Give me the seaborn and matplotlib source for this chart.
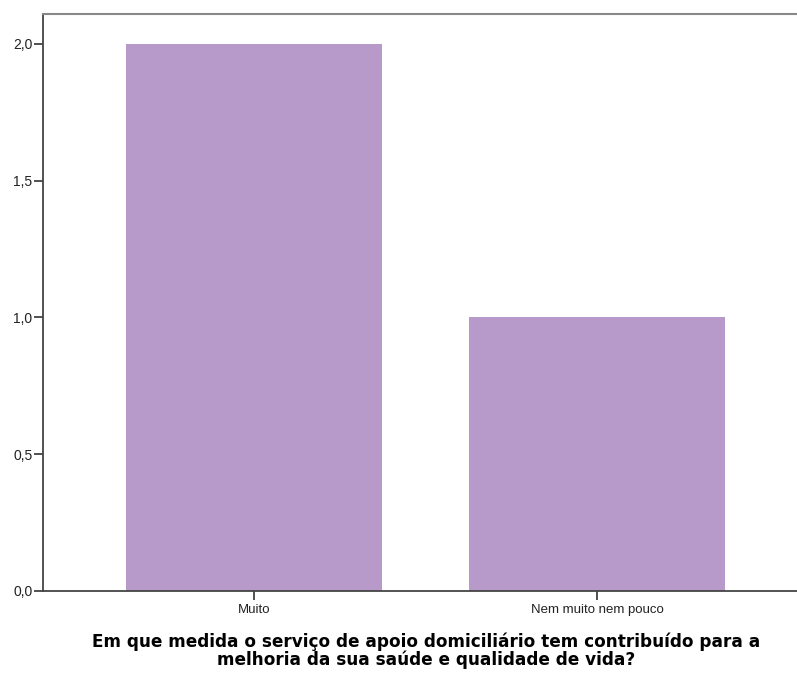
import matplotlib
matplotlib.use("Agg")
import matplotlib.pyplot as plt
import seaborn as sns
import pandas as pd

categories = ["Muito", "Nem muito nem pouco"]
counts = [2.0, 1.0]
yticks = [0.0, 0.5, 1.0, 1.5, 2.0]
ytick_labels = ["0,0", "0,5", "1,0", "1,5", "2,0"]
xlabel = ("Em que medida o serviço de apoio domiciliário tem contribuído para a\n"
          "melhoria da sua saúde e qualidade de vida?")

sns.set_theme(style="white")
plt.rcParams['font.family'] = ['Liberation Sans', 'DejaVu Sans']

df = pd.DataFrame({"cat": categories, "count": counts})

fig = plt.figure(figsize=(7.97, 6.73), dpi=100)
ax = fig.add_axes([43/797, 1-591/673, 1-43/797, (591-14)/673])
sns.barplot(data=df, x="cat", y="count", color="#B89ACA", width=0.746,
            saturation=1, ax=ax, edgecolor="none")

ax.set_ylim(0, 577/273.5)
ax.set_xlim(-0.615, 1.583)
ax.set_yticks(yticks)
ax.set_yticklabels(ytick_labels, fontsize=10, color="#222222")
ax.tick_params(axis="x", labelsize=9.5, labelcolor="#222222", length=6.5, width=1.2,
               direction="out", color="#333333", pad=3, bottom=True)
ax.tick_params(axis="y", length=6.5, width=1.2, direction="out", color="#333333",
               pad=1, left=True)
ax.set_ylabel("")
ax.set_xlabel(xlabel, fontsize=12.2, fontweight="bold", labelpad=12, linespacing=0.95,
              family=["DejaVu Sans"], color="black")
ax.xaxis.label.set_x(0.508)

for s in ["left", "bottom"]:
    ax.spines[s].set_color("#444444")
    ax.spines[s].set_linewidth(1.3)
ax.spines["top"].set_color("#888888")
ax.spines["top"].set_linewidth(1.5)
ax.spines["right"].set_visible(False)

fig.savefig("out.png", dpi=100)
